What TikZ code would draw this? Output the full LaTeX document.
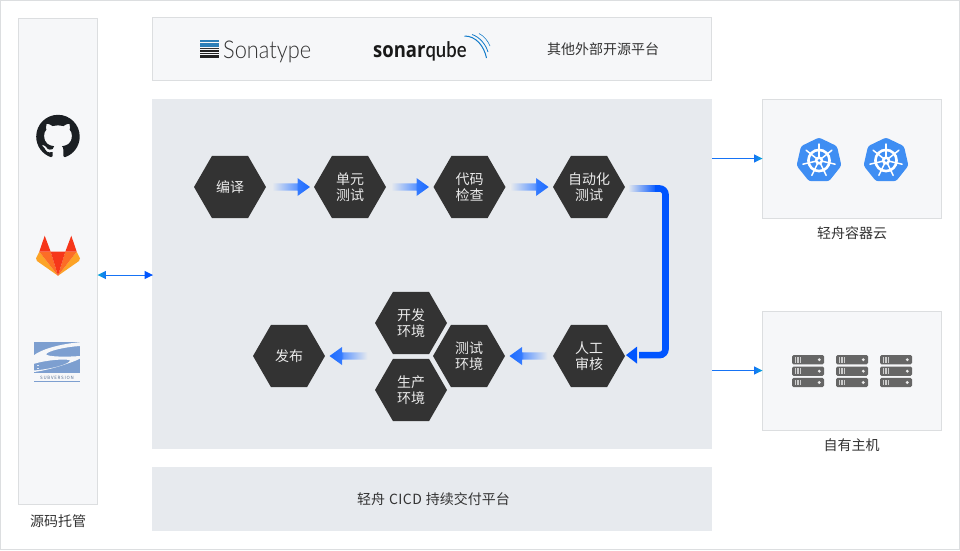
\documentclass[tikz,border=0pt]{standalone}
\usepackage{fontspec}
\setmainfont{Noto Sans CJK SC}
\newfontfamily\lightf{Lato Light}
\newfontfamily\boldf{Open Sans}[BoldFont=* Bold]
\usetikzlibrary{shapes.geometric,calc,svg.path}
\definecolor{panelbg}{HTML}{F6F7F9}
\definecolor{panelline}{HTML}{DCDEE0}
\definecolor{mainbg}{HTML}{E7EAEE}
\definecolor{hexbg}{HTML}{333333}
\definecolor{flow}{HTML}{0055FF}
\definecolor{flowhead}{HTML}{1E6CFF}
\definecolor{thin}{HTML}{1673F5}
\definecolor{tipc}{HTML}{06A8D8}
\definecolor{k8s}{HTML}{3F8EF3}
\definecolor{srv}{HTML}{666666}
\definecolor{svnblue}{HTML}{7D9FD0}
\definecolor{ghub}{HTML}{1B1F23}
\pgfdeclarehorizontalshading{flowgrad}{100bp}{color(0bp)=(mainbg); color(25bp)=(mainbg); color(57bp)=(flowhead!70!white); color(59bp)=(flowhead!90!white); color(75bp)=(flowhead); color(100bp)=(flowhead)}
\tikzset{
  x=1pt,y=-1pt,
  txt/.style={font=\fontsize{14}{17}\selectfont,text=hexbg,inner sep=0pt},
  panel/.style={draw=panelline,line width=1pt,fill=panelbg,inner sep=0pt,outer sep=0pt,minimum width=#1},
  soft/.style={fill=mainbg,inner sep=0pt,outer sep=0pt,minimum width=#1},
  hexa/.style={regular polygon,regular polygon sides=6,minimum size=72pt,inner sep=0pt,outer sep=0pt,fill=hexbg,text=white!92!black,align=center,font=\fontsize{14}{16.5}\selectfont},
  thinline/.style={draw=thin,line width=1pt},
  flowline/.style={draw=flow,line width=6.6pt,rounded corners=6pt},
}
\newcommand{\arrR}[1]{\shade[shading=flowgrad] (#1) ++(0,-3.7) -- ++(25.5,0) -- ++(0,-5.3) -- ++(12.5,9) -- ++(-12.5,9) -- ++(0,-5.3) -- ++(-25.5,0) -- cycle;}
\newcommand{\arrL}[1]{\shade[shading=flowgrad,shading angle=180] (#1) -- ++(12.5,-9) -- ++(0,5.3) -- ++(25.5,0) -- ++(0,7.4) -- ++(-25.5,0) -- ++(0,5.3) -- cycle;}
\newcommand{\wheel}[1]{%
  \fill[k8s,rounded corners=2.5pt] ($(#1)+(-90:23)$) -- ($(#1)+(-38.57:23)$) -- ($(#1)+(12.86:23)$) -- ($(#1)+(64.29:23)$) -- ($(#1)+(115.71:23)$) -- ($(#1)+(167.14:23)$) -- ($(#1)+(218.57:23)$) -- cycle;
  \draw[white,line width=2.6pt] (#1) circle[radius=10.6];
  \foreach \a in {0,...,6}{\draw[white,line width=1.5pt,line cap=round] (#1) -- ++({-90+\a*360/7}:16.5);}
  \fill[white] (#1) circle[radius=4.2];
  \fill[k8s] (#1) circle[radius=1.5];
}
\newcommand{\server}[2]{%
  \fill[srv,rounded corners=1.5pt] (#1,#2) rectangle ++(32,9.4);
  \foreach \d in {3,5.3,7.6}{\fill[white!80!black] (#1+\d,#2+1.8) rectangle ++(1.4,5.8);}
  \fill[white!92!black] (#1+27.3,#2+4.7) circle[radius=1.6];
}
\begin{document}
\begin{tikzpicture}
\useasboundingbox (0,0) rectangle (960,550);
\draw[panelline,fill=white,line width=1pt] (0.5,0.5) rectangle (959.5,549.5);

% panels
\node[panel=79pt,minimum height=486pt] (src) at (58,261.5) {};
\node[panel=559pt,minimum height=63pt] (ext) at (432,49) {};
\node[soft=560pt,minimum height=350pt] (main) at (432,274) {};
\node[soft=560pt,minimum height=64pt] (plat) at (432,499) {};
\node[panel=179pt,minimum height=119pt] (cloud) at (852,159) {};
\node[panel=179pt,minimum height=119pt] (host) at (852,371) {};

% labels
\node[txt] (lsrc) at (58,521) {源码托管};
\node[txt] (lother) at (603,49) {其他外部开源平台};
\node[txt] (lplat) at (433.5,499) {轻舟\hspace{4pt}C\kern0.4pt I\kern0.4pt C\kern0.4pt D\hspace{4pt}持续交付平台};
\node[txt] (lcloud) at (852,233) {轻舟容器云};
\node[txt] (lhost) at (851.5,445) {自有主机};

% hexagons
\node[hexa] (h1) at (230,187) {编译};
\node[hexa] (h2) at (350,187) {单元\\测试};
\node[hexa] (h3) at (469.5,187) {代码\\检查};
\node[hexa] (h4) at (589,187) {自动化\\测试};
\node[hexa] (h5) at (589,356) {人工\\审核};
\node[hexa] (h6) at (469,356) {测试\\环境};
\node[hexa] (h7) at (411,323) {开发\\环境};
\node[hexa] (h8) at (411,390) {生产\\环境};
\node[hexa] (h9) at (289,356) {发布};

% flow arrows
\arrR{$(h1)+(42,0)$}
\arrR{$(h2)+(41,0)$}
\arrR{$(h3)+(41,0)$}
\arrL{$(h6)+(40.5,0)$}
\arrL{$(h9)+(40.5,0)$}

% long connector
\coordinate (bend1) at ($(h4)+(76.5,1.5)$);
\coordinate (bend2) at ($(h5)+(76.5,-0.9)$);
\shade[left color=mainbg,right color=flow] ($(h4)+(39,-1.8)$) rectangle ($(h4)+(68,4.8)$);
\draw[flowline] ($(h4)+(66,1.5)$) -- (bend1) -- (bend2) -- ($(h5)+(50,-0.9)$);
\fill[flow] ($(h5)+(37,-0.9)$) -- ++(11,-8.5) -- ++(0,17) -- cycle;

% thin arrows
\coordinate (p1) at (main.east |- 0,158.5);
\coordinate (p2) at (cloud.west |- 0,158.5);
\coordinate (p3) at (main.east |- 0,370.5);
\coordinate (p4) at (host.west |- 0,370.5);
\coordinate (p5) at (src.east |- 0,275);
\coordinate (p6) at ($(main.west |- 0,275)+(1,0)$);
\draw[thinline] (p1) -- ($(p2)+(-6,0)$);
\shade[left color=thin,right color=tipc] (p2) -- ++(-8.5,-4.2) -- ++(0,8.4) -- cycle;
\draw[thinline] (p3) -- ($(p4)+(-6,0)$);
\shade[left color=thin,right color=tipc] (p4) -- ++(-8.5,-4.2) -- ++(0,8.4) -- cycle;
\draw[thinline] ($(p5)+(6,0)$) -- ($(p6)+(-6,0)$);
\shade[left color=tipc,right color=thin] (p5) -- ++(8.5,-4.2) -- ++(0,8.4) -- cycle;
\fill[flow] (p6) -- ++(-8.5,-4.2) -- ++(0,8.4) -- cycle;

% GitHub
\begin{scope}[shift={(36.2,114.8)},scale=2.72,yscale=-1]
\fill[ghub] svg {M 8 0 C 3.58 0 0 3.58 0 8 c 0 3.54 2.29 6.53 5.47 7.59 0.4 0.07 0.55 -0.17 0.55 -0.38 0 -0.19 -0.01 -0.82 -0.01 -1.49 -2.01 0.37 -2.53 -0.49 -2.69 -0.94 -0.09 -0.23 -0.48 -0.94 -0.82 -1.13 -0.28 -0.15 -0.68 -0.52 -0.01 -0.53 0.63 -0.01 1.08 0.58 1.23 0.82 0.72 1.21 1.87 0.87 2.33 0.66 0.07 -0.52 0.28 -0.87 0.51 -1.07 -1.78 -0.2 -3.64 -0.89 -3.64 -3.95 0 -0.87 0.31 -1.59 0.82 -2.15 -0.08 -0.2 -0.36 -1.02 0.08 -2.12 0 0 0.67 -0.21 2.2 0.82 0.64 -0.18 1.32 -0.27 2 -0.27 0.68 0 1.36 0.09 2 0.27 1.53 -1.04 2.2 -0.82 2.2 -0.82 0.44 1.1 0.16 1.92 0.08 2.12 0.51 0.56 0.82 1.27 0.82 2.15 0 3.07 -1.87 3.75 -3.65 3.95 0.29 0.25 0.54 0.73 0.54 1.48 0 1.07 -0.01 1.93 -0.01 2.2 0 0.21 0.15 0.46 0.55 0.38 C 13.71 14.53 16 11.53 16 8 c 0 -4.42 -3.58 -8 -8 -8 z};
\end{scope}

% GitLab
\definecolor{glouter}{HTML}{FCA326}
\definecolor{glmid}{HTML}{FC6D26}
\definecolor{glred}{HTML}{F6361A}
\fill[glouter] (39.3,251.7) -- (36,258.3) -- (37,261) -- (58,275.7) -- cycle;
\fill[glouter] (76.7,251.7) -- (80,258.3) -- (79,261) -- (58,275.7) -- cycle;
\fill[glmid] (39.3,251.7) -- (50.7,251.7) -- (58,275.7) -- cycle;
\fill[glmid] (76.7,251.7) -- (65.3,251.7) -- (58,275.7) -- cycle;
\fill[glred] (50.7,251.7) -- (65.3,251.7) -- (58,275.7) -- cycle;
\fill[glred] (39.3,251.7) -- (44.7,235.7) -- (50.7,251.7) -- cycle;
\fill[glred] (65.3,251.7) -- (71.3,235.7) -- (76.7,251.7) -- cycle;

% Subversion
\fill[svnblue] (34,342) rectangle (80,373);
\fill[panelbg] (34,355.2) .. controls (42,349) and (60,344) .. (80,342.2) -- (80,346)
  .. controls (64,347) and (48,351) .. (46,354.3) .. controls (48,357) and (68,357) .. (80,356) -- (80,358.6)
  .. controls (74,362) and (50,370) .. (34,372) -- (34,370.5)
  .. controls (52,369) and (70,364) .. (70,360.3) .. controls (66,358.5) and (46,360) .. (34,363.8) -- cycle;
\fill[white!75!svnblue] (36.5,365) rectangle ++(2.5,1.2);
\fill[white!75!svnblue] (36.5,368) rectangle ++(2.5,1.2);
\node[inner sep=0pt,text=svnblue!70!black,font=\fontsize{4.4}{5}\selectfont] (svnt) at (57,377.4) {S\,U\,B\,V\,E\,R\,S\,I\,O\,N};
\fill[svnblue] (34,380.6) rectangle (80,381.6);

% Sonatype
\foreach \y/\c/\h in {40/2D7FB8/2,42.5/2D7FB8/2,45/2D7FB8/1.8,47.5/333333/1.5,50/222222/1.5,52.5/222222/1.7,55/222222/2.5}{
  \definecolor{stripec}{HTML}{\c}
  \fill[stripec] (200,\y) rectangle ++(18.7,\h);
}
\node[inner sep=0pt,anchor=base west,text=hexbg,xscale=0.89] (sona) at (223,58) {\fontsize{24.5}{26}\lightf Sonatype};

% SonarQube
\node[inner sep=0pt,anchor=base west,text=black!90,xscale=0.86] (sonar) at (373,57) {\fontsize{21.5}{24}\boldf\bfseries sonar\fontsize{21.5}{24}\lightf qube};
\draw[cyan!60!blue,line width=1pt] (464.5,36) .. controls (476,36) and (484,46) .. (486.5,58);
\draw[cyan!60!blue,line width=0.8pt] (472,34.5) .. controls (480,37) and (486,45) .. (488,52);
\draw[cyan!60!blue,line width=0.6pt] (479,33.5) .. controls (484,36) and (488,41) .. (490,46);

% K8s
\coordinate (w1) at (819,160.5);
\coordinate (w2) at (886,160.5);
\wheel{w1}
\wheel{w2}

% servers
\foreach \x in {792,836,880}{
  \foreach \y in {355,366.5,377.8}{
    \server{\x}{\y}
  }
}
\end{tikzpicture}
\end{document}
